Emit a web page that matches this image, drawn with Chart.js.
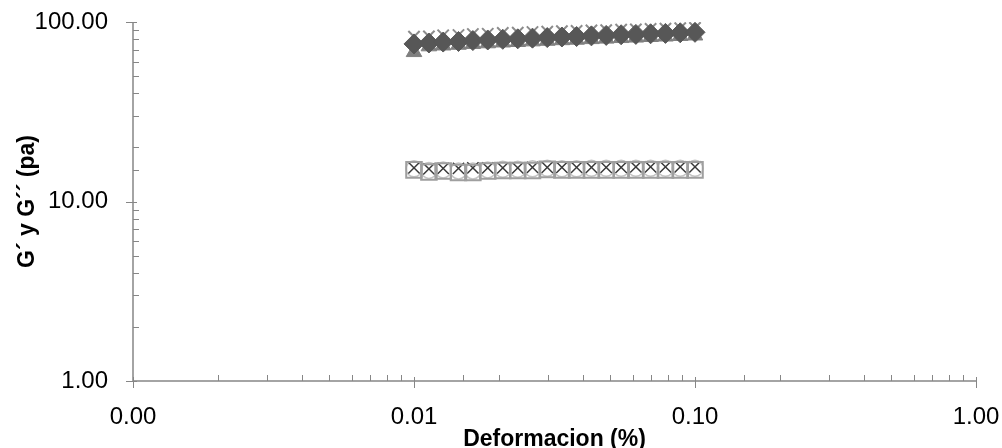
<!DOCTYPE html>
<html>
<head>
<meta charset="utf-8">
<script src="https://cdn.jsdelivr.net/npm/chart.js@4/dist/chart.umd.min.js"></script>
<style>
  html, body { margin: 0; padding: 0; background: #fff; }
  #wrap { width: 1002px; height: 448px; position: relative; }
</style>
</head>
<body>
<div id="wrap"><canvas id="chart"></canvas></div>
<script>
// strain sweep, log spaced (%)
const strain = [0.0100, 0.0113, 0.0127, 0.0144, 0.0162, 0.0183, 0.0207, 0.0234, 0.0264, 0.0298,
                0.0336, 0.0379, 0.0428, 0.0483, 0.0546, 0.0616, 0.0695, 0.0785, 0.0886, 0.1000];

// storage modulus G' (Pa), three runs
const gPrime1 = [75.5, 76.4, 77.3, 77.9, 78.8, 79.4, 80.1, 80.6, 81.3, 81.9,
                 82.5, 83.0, 83.7, 84.2, 84.9, 85.3, 86.0, 86.4, 87.1, 87.6];
const gPrime2 = [68.0, 73.2, 74.0, 74.7, 75.5, 76.1, 76.9, 77.4, 78.0, 78.6,
                 79.2, 79.7, 80.3, 80.8, 81.4, 81.9, 82.5, 83.0, 83.6, 84.1];
const gPrime3 = [82.8, 83.2, 84.3, 84.6, 85.7, 86.0, 86.9, 87.2, 87.9, 88.3,
                 88.9, 89.2, 89.8, 90.1, 90.7, 91.0, 91.6, 91.9, 92.4, 92.8];

// loss modulus G'' (Pa), three runs
const gDouble1 = [15.0, 14.6, 14.8, 14.5, 14.5, 14.8, 14.9, 14.9, 14.9, 15.1,
                  15.0, 15.0, 15.0, 15.0, 15.0, 15.0, 15.0, 15.0, 15.0, 15.0];
const gDouble2 = [15.4, 15.2, 15.3, 15.3, 15.4, 15.4, 15.4, 15.4, 15.5, 15.5,
                  15.5, 15.5, 15.5, 15.5, 15.5, 15.6, 15.6, 15.6, 15.6, 15.6];
const gDouble3 = [15.2, 14.9, 15.0, 14.8, 14.8, 15.0, 15.1, 15.1, 15.2, 15.3,
                  15.2, 15.2, 15.3, 15.3, 15.3, 15.3, 15.3, 15.3, 15.3, 15.3];

const xTicks = [0.001, 0.01, 0.1, 1];
const yTicks = [1, 10, 100];

const pts = (ys) => strain.map((x, i) => ({ x, y: ys[i] }));
const isDecade = (v) => { const l = Math.log10(v); return Math.abs(l - Math.round(l)) < 1e-6; };

const AXIS = '#868686';
const FONT = "'Liberation Sans', Arial, sans-serif";

// axis lines with Excel-style ticks: decades cross the axis, minor ticks point inward
const axisPlugin = {
  id: 'axisTicks',
  afterDraw(chart) {
    const { ctx, chartArea: a, scales } = chart;
    ctx.save();
    ctx.strokeStyle = AXIS;
    ctx.lineWidth = 1.5;
    ctx.beginPath();
    ctx.moveTo(a.left, a.top);
    ctx.lineTo(a.left, a.bottom);
    ctx.lineTo(a.right, a.bottom);
    ctx.stroke();
    ctx.lineWidth = 1;
    ctx.beginPath();
    scales.y.ticks.forEach((t) => {
      const y = Math.round(scales.y.getPixelForValue(t.value)) + 0.5;
      if (isDecade(t.value)) { ctx.moveTo(a.left - 7, y); ctx.lineTo(a.left + 4, y); }
      else { ctx.moveTo(a.left, y); ctx.lineTo(a.left + 6, y); }
    });
    scales.x.ticks.forEach((t) => {
      const x = Math.round(scales.x.getPixelForValue(t.value)) + 0.5;
      if (isDecade(t.value)) { ctx.moveTo(x, a.bottom + 7); ctx.lineTo(x, a.bottom - 4); }
      else { ctx.moveTo(x, a.bottom); ctx.lineTo(x, a.bottom - 6); }
    });
    ctx.stroke();
    ctx.restore();
  }
};

new Chart(document.getElementById('chart'), {
  type: 'scatter',
  data: {
    datasets: [
      { label: "G' 1", data: pts(gPrime1), pointStyle: 'rectRot', pointRadius: 10,
        backgroundColor: '#575757', borderColor: '#575757', borderWidth: 1 },
      { label: "G' 2", data: pts(gPrime2), pointStyle: 'triangle', pointRadius: 9,
        backgroundColor: '#7f7f7f', borderColor: '#7f7f7f', borderWidth: 1 },
      { label: "G' 3", data: pts(gPrime3), pointStyle: 'crossRot', pointRadius: 8,
        backgroundColor: '#8c8c8c', borderColor: '#8c8c8c', borderWidth: 2 },
      { label: "G'' 1", data: pts(gDouble1), pointStyle: 'rect', pointRadius: 11,
        backgroundColor: 'rgba(0,0,0,0)', borderColor: '#9f9f9f', borderWidth: 2 },
      { label: "G'' 2", data: pts(gDouble2), pointStyle: 'crossRot', pointRadius: 8,
        backgroundColor: '#3a3a3a', borderColor: '#3a3a3a', borderWidth: 1.5 },
      { label: "G'' 3", data: pts(gDouble3), pointStyle: 'circle', pointRadius: 8,
        backgroundColor: 'rgba(0,0,0,0)', borderColor: '#c4c4c4', borderWidth: 1.5 }
    ]
  },
  options: {
    responsive: true,
    maintainAspectRatio: false,
    animation: false,
    events: [],
    layout: { padding: { left: 0, right: 26, top: 22, bottom: 0 } },
    plugins: { legend: { display: false }, tooltip: { enabled: false } },
    scales: {
      x: {
        type: 'logarithmic',
        min: xTicks[0],
        max: xTicks[xTicks.length - 1],
        grid: { display: false, drawTicks: false },
        border: { display: false },
        ticks: {
          autoSkip: false,
          maxRotation: 0,
          padding: 22,
          color: '#000',
          font: { family: FONT, size: 24 },
          callback: (v) => (isDecade(v) ? Number(v).toFixed(2) : '')
        },
        title: {
          display: true,
          text: 'Deformacion (%)',
          color: '#000',
          padding: { top: 0, bottom: -5 },
          font: { family: FONT, size: 23, weight: 'bold' }
        },
        afterFit(scale) { scale.height = 67; scale.paddingLeft = 0; scale.paddingRight = 0; }
      },
      y: {
        type: 'logarithmic',
        min: yTicks[0],
        max: yTicks[yTicks.length - 1],
        grid: { display: false, drawTicks: false },
        border: { display: false },
        ticks: {
          autoSkip: false,
          padding: 25,
          color: '#000',
          font: { family: FONT, size: 24 },
          callback: (v) => (isDecade(v) ? Number(v).toFixed(2) : '')
        },
        title: {
          display: true,
          text: 'G´ y G´´ (pa)',
          color: '#000',
          padding: { top: 14, bottom: 0 },
          font: { family: FONT, size: 23, weight: 'bold' }
        },
        afterFit(scale) { scale.width = 133; scale.paddingTop = 0; scale.paddingBottom = 0; }
      }
    }
  },
  plugins: [axisPlugin]
});
</script>
</body>
</html>
